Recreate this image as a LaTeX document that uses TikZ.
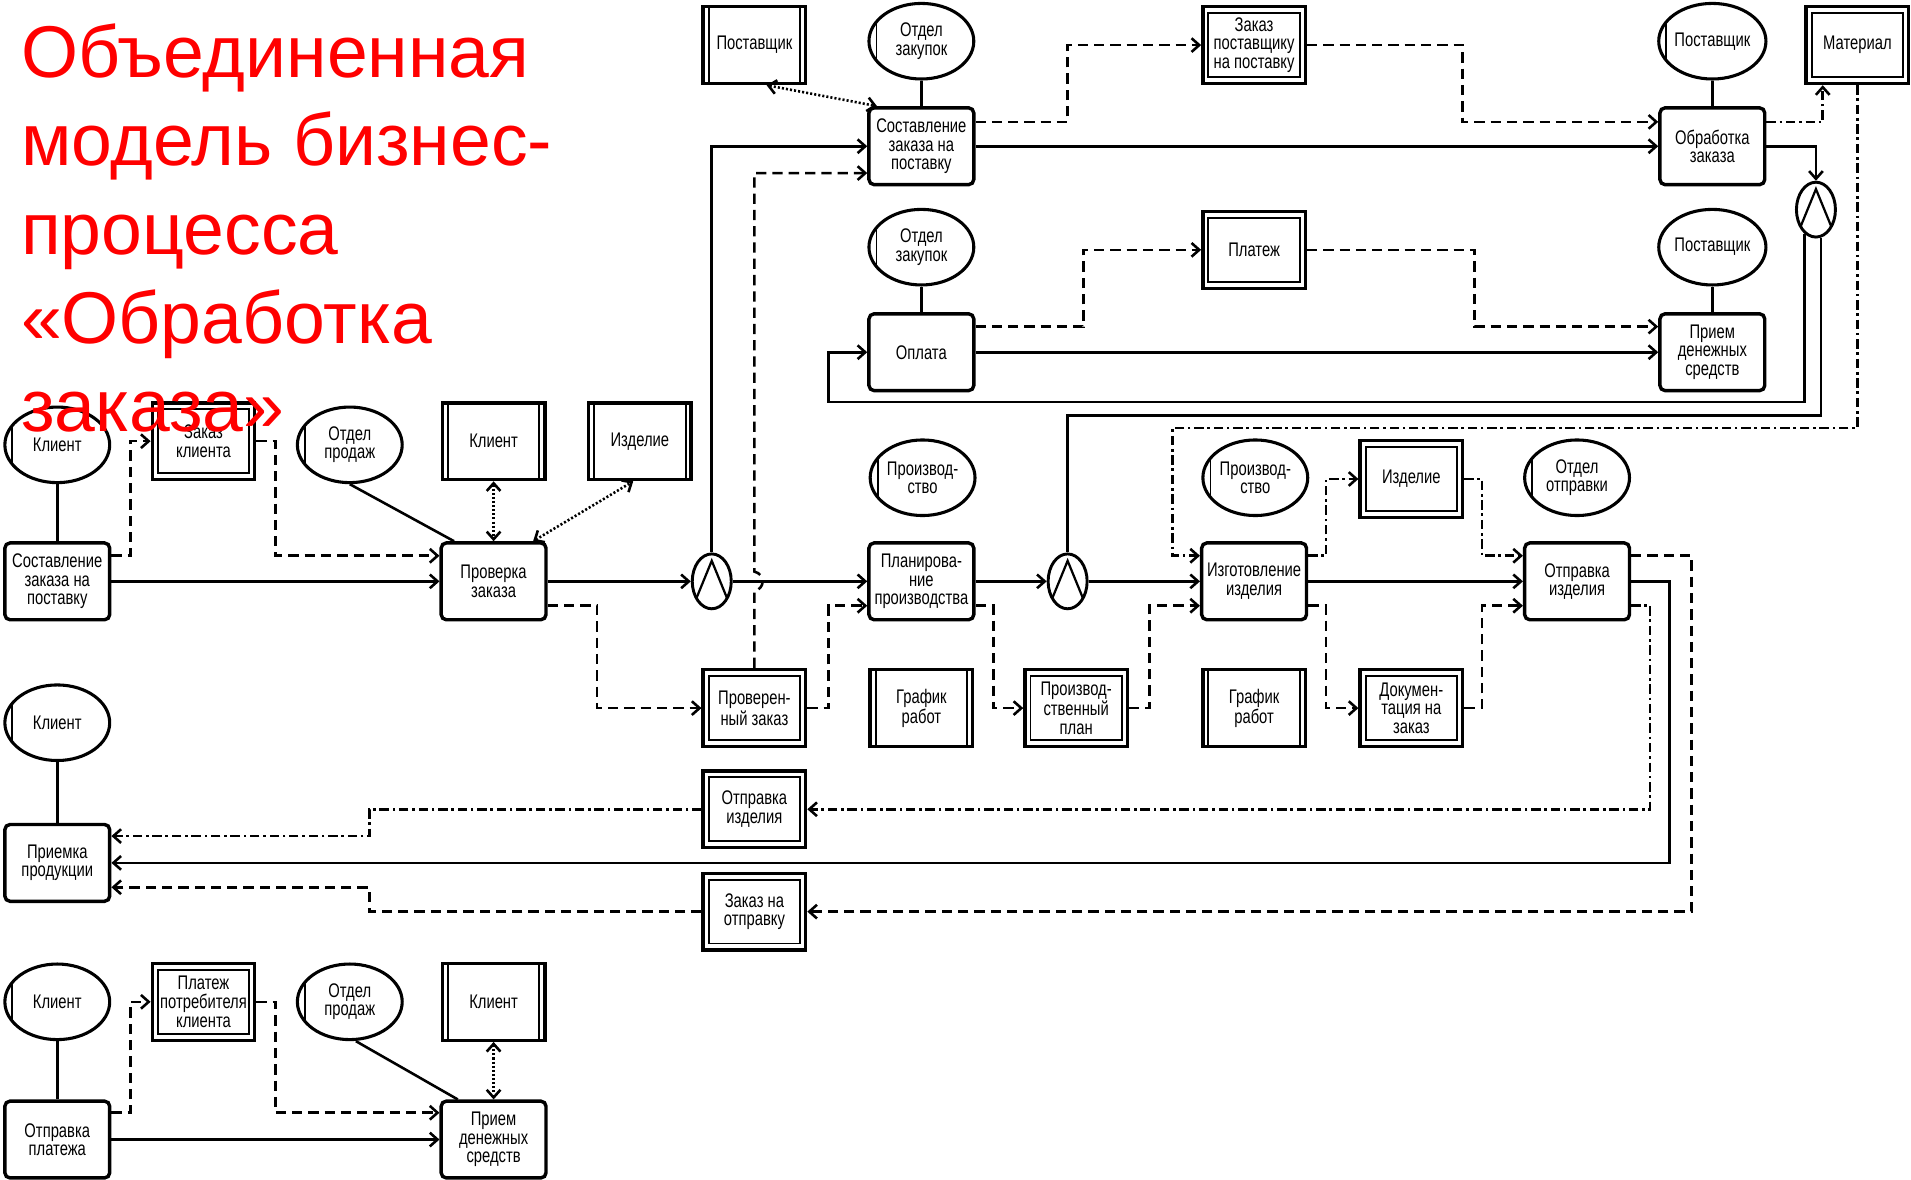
\documentclass[tikz,border=0pt]{standalone}
\usepackage{fontspec}
\newfontfamily\boxfont[FakeStretch=0.75]{Liberation Sans}
\newfontfamily\titlefont{Liberation Sans}
\usetikzlibrary{arrows.meta,positioning,calc,shapes.geometric}
\newcommand\boxtext{\boxfont\fontsize{11.5}{10.8}\selectfont}
\tikzset{
  proc/.style={draw=black, line width=2pt, rounded corners=3pt, align=center, inner sep=1pt, minimum width=2.15cm, minimum height=1.575cm, font=\boxtext},
  ent/.style={draw=black, line width=2pt, align=center, inner sep=1pt, minimum width=2.1cm, minimum height=1.575cm, font=\boxtext,
    path picture={\draw[line width=1.1pt] ([xshift=3.2pt]path picture bounding box.north west) -- ([xshift=3.2pt]path picture bounding box.south west)
      ([xshift=-3.2pt]path picture bounding box.north east) -- ([xshift=-3.2pt]path picture bounding box.south east);}},
  doc/.style={draw=black, line width=2pt, align=center, inner sep=1pt, minimum width=2.1cm, minimum height=1.575cm, font=\boxtext,
    path picture={\draw[line width=1.1pt] ([shift={(3.2pt,-3.8pt)}]path picture bounding box.north west) rectangle ([shift={(-3.2pt,3.8pt)}]path picture bounding box.south east);}},
  plainres/.style={ellipse, draw=black, line width=1.8pt, align=center, inner sep=0pt, minimum width=2.15cm, minimum height=1.55cm, font=\boxtext},
  res/.style={plainres,
    path picture={\draw[line width=1.1pt] ([xshift=4.4pt]path picture bounding box.north west) -- ([xshift=4.4pt]path picture bounding box.south west);}},
  junc/.style={ellipse, draw=black, line width=1.7pt, inner sep=0pt, minimum width=0.8cm, minimum height=1.125cm,
    path picture={\draw[line width=1.3pt] ([shift={(-9pt,-10pt)}]path picture bounding box.center) -- ([shift={(0pt,12pt)}]path picture bounding box.center) -- ([shift={(9pt,-10pt)}]path picture bounding box.center);}},
  link/.style={line width=1.5pt},
  flow/.style={line width=1.5pt, -{Straight Barb[length=4.5pt,width=8pt]}},
  info/.style={flow, dash pattern=on 6pt off 3.5pt},
  matflow/.style={flow, dash pattern=on 5.5pt off 2.2pt on 1.5pt off 2.2pt},
  assoc/.style={line width=1.5pt, dash pattern=on 1.2pt off 1.2pt, {Straight Barb[length=4.5pt,width=8pt]}-{Straight Barb[length=4.5pt,width=8pt]}}
}
\begin{document}
\begin{tikzpicture}[x=0.025cm, y=-0.025cm, node distance=0.525cm]
\useasboundingbox (0,0) rectangle (1568,968);
% supply and payment
\node[proc] (sost1) at (756,120) {Составление\\заказа на\\поставку};
\node[res, above=of sost1] (zak1) {Отдел\\закупок};
\node[ent] (sup1) at (619,37) {Поставщик};
\node[doc] (zps) at (1029,37) {Заказ\\поставщику\\на поставку};
\node[proc] (obr) at (1405,120) {Обработка\\заказа};
\node[res, above=of obr] (sup2) {Поставщик};
\node[doc] (mat) at (1524,37) {Материал};
\node[junc] (j3) at (1490,172) {};
\node[proc] (opl) at (756,289) {Оплата};
\node[res, above=of opl] (zak2) {Отдел\\закупок};
\node[doc] (plat) at (1029,205) {Платеж};
\node[proc] (priem1) at (1405,289) {Прием\\денежных\\средств};
\node[plainres, above=of priem1] (sup3) {Поставщик};
% order and production
\node[res] (kl1) at (47,365) {Клиент};
\node[doc] (zkl) at (167,362) {Заказ\\клиента};
\node[res] (prod1) at (287,365) {Отдел\\продаж};
\node[ent] (kl2) at (405,362) {Клиент};
\node[ent] (izd1) at (525,362) {Изделие};
\node[proc] (sost2) at (47,477) {Составление\\заказа на\\поставку};
\node[proc] (prov) at (405,477) {Проверка\\заказа};
\node[junc] (j1) at (584,477) {};
\node[res] (proiz1) at (757,392) {Производ-\\ство};
\node[proc] (plan) at (756,477) {Планирова-\\ние\\производства};
\node[junc] (j2) at (876,477) {};
\node[res] (proiz2) at (1030,392) {Производ-\\ство};
\node[doc] (izd2) at (1158,393) {Изделие};
\node[res] (otp) at (1294,392) {Отдел\\отправки};
\node[proc] (izg) at (1029,477) {Изготовление\\изделия};
\node[proc] (otpr) at (1294,477) {Отправка\\изделия};
\node[doc] (provz) at (619,581) {Проверен-\\ный заказ};
\node[ent] (graf1) at (756,581) {График\\работ};
\node[doc] (pplan) at (883,581) {Производ-\\ственный\\план};
\node[ent] (graf2) at (1029,581) {График\\работ};
\node[doc] (doku) at (1158,581) {Докумен-\\тация на\\заказ};
% delivery
\node[res] (kl3) at (47,593) {Клиент};
\node[proc] (prm) at (47,708) {Приемка\\продукции};
\node[doc] (otpiz) at (619,664) {Отправка\\изделия};
\node[doc] (zotp) at (619,748) {Заказ на\\отправку};
% customer payment
\node[res] (kl4) at (47,822) {Клиент};
\node[doc] (ppk) at (167,822) {Платеж\\потребителя\\клиента};
\node[res] (prod2) at (287,822) {Отдел\\продаж};
\node[ent] (kl5) at (405,822) {Клиент};
\node[proc] (otplat) at (47,935) {Отправка\\платежа};
\node[proc] (priem2) at (405,935) {Прием\\денежных\\средств};

% connectors: supply
\draw[link] (zak1) -- (sost1);
\draw[assoc] ($(sup1.south)+(10,0)$) -- ($(sost1.north west)+(8,0)$);
\draw[flow] (sost1) -- (obr);
\draw[info] ($(sost1.east)+(0,-20)$) -| (876,37) -- (zps.west);
\draw[info] (zps.east) -| (1200,100) -- ($(obr.west)+(0,-20)$);
\draw[link] (sup2) -- (obr);
\draw[matflow] ($(obr.east)+(0,-20)$) -| ($(mat.south west)+(15,0)$);
\draw[flow] (obr.east) -| (j3);
\draw[flow] (j3.-115) |- (680,330) |- (opl.west);
\draw[link] (j3.-80) |- (876,341) -- (j2);
\draw[link] (zak2) -- (opl);
\draw[flow] (opl) -- (priem1);
\draw[info] ($(opl.east)+(0,-21)$) -| (889,205) -- (plat.west);
\draw[info] (plat.east) -| (1210,268) -- ($(priem1.west)+(0,-21)$);
\draw[link] (sup3) -- (priem1);
\draw[matflow] (mat.south) |- (962,351) |- ($(izg.west)+(0,-21)$);
% connectors: order and production
\draw[link] (kl1) -- (sost2);
\draw[info] ($(sost2.east)+(0,-21)$) -| (107,362) -- (zkl.west);
\draw[info] (zkl.east) -| (226,456) -- ($(prov.west)+(0,-21)$);
\draw[flow] (sost2) -- (prov);
\draw[link] (prod1.south) -- ($(prov.north west)+(12,0)$);
\draw[assoc] (kl2) -- (prov);
\draw[assoc] ($(prov.north east)+(-12,0)$) -- ($(izd1.south west)+(38,0)$);
\draw[flow] (prov) -- (j1);
\draw[info] ($(prov.east)+(0,20)$) -| (490,581) -- (provz.west);
\draw[flow] (j1) |- (sost1.west);
\draw[flow] (j1) -- (plan);
\draw[info] (provz.north) -- (619,485) .. controls (628,483) and (628,471) .. (619,469) |- ($(sost1.west)+(0,22)$);
\draw[info] (provz.east) -| (680,497) -- ($(plan.west)+(0,20)$);
\draw[flow] (plan) -- (j2);
\draw[info] ($(plan.east)+(0,20)$) -| (815,581) -- (pplan.west);
\draw[flow] (j2) -- (izg);
\draw[info] (pplan.east) -| (943,497) -- ($(izg.west)+(0,20)$);
\draw[matflow] ($(izg.east)+(0,-21)$) -| (1088,393) -- (izd2.west);
\draw[info] ($(izg.east)+(0,20)$) -| (1088,581) -- (doku.west);
\draw[matflow] (izd2.east) -| (1216,456) -- ($(otpr.west)+(0,-21)$);
\draw[info] (doku.east) -| (1216,497) -- ($(otpr.west)+(0,20)$);
\draw[flow] (izg) -- (otpr);
% connectors: delivery
\draw[flow] (otpr.east) -| (1370,708) -- (prm.east);
\draw[info] ($(otpr.east)+(0,-21)$) -| (1388,748) -- (zotp.east);
\draw[matflow] ($(otpr.east)+(0,20)$) -| (1354,664) -- (otpiz.east);
\draw[matflow] (otpiz.west) -| (303,686) -- ($(prm.east)+(0,-22)$);
\draw[info] (zotp.west) -| (303,728) -- ($(prm.east)+(0,20)$);
\draw[link] (kl3) -- (prm);
% connectors: customer payment
\draw[link] (kl4) -- (otplat);
\draw[info] ($(otplat.east)+(0,-22)$) -| (107,822) -- (ppk.west);
\draw[info] (ppk.east) -| (226,913) -- ($(priem2.west)+(0,-22)$);
\draw[flow] (otplat) -- (priem2);
\draw[link] ($(prod2.south)+(5,0)$) -- ($(priem2.north west)+(15,0)$);
\draw[assoc] (kl5) -- (priem2);

% title
\node[anchor=north west, inner sep=0pt, align=left, text=red, font=\titlefont\fontsize{42.8}{51.7}\selectfont] (title) at (17,19) {Объединенная\\модель бизнес-\\процесса\\«Обработка\\заказа»};
\end{tikzpicture}
\end{document}
